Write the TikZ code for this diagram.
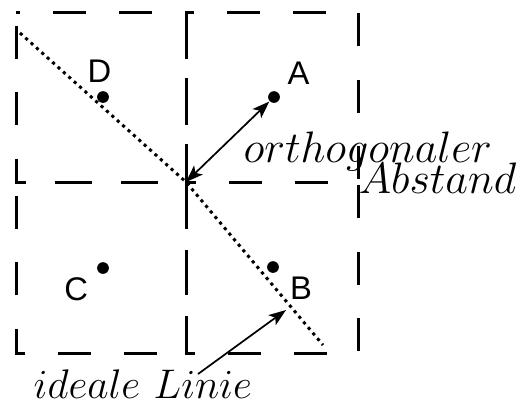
\documentclass[tikz,border=0pt]{standalone}
\usepackage{fontspec}
\newfontfamily\lblfont{Liberation Sans}
\usetikzlibrary{arrows.meta, positioning}
\tikzset{
  cell/.style={line width=0.87pt, dash pattern=on 9.6pt off 9.6pt, dash phase=15.1pt},
  pt/.style={circle, fill=black, inner sep=0pt, minimum size=3.4pt},
  ptlabel/.style={font=\lblfont\fontsize{9.5}{11}\selectfont, inner sep=0pt},
  idealline/.style={line width=0.87pt, dash pattern=on 0.9pt off 1.2pt},
  pointer/.style={-{Stealth[length=5pt, width=3.6pt, inset=1.2pt]}, line width=0.5pt},
  note/.style={font=\large, inner sep=0pt},
}

\begin{document}
\begin{tikzpicture}[x=0.29pt, y=-0.29pt]
    \useasboundingbox (0,0) rectangle (521,407);

    % the four cells
    \foreach \xa/\ya/\xb/\yb in {16/12/186/182, 186/12/358/182, 16/182/186/353, 186/182/358/353}
        \draw[cell] (\xa,\ya) rectangle (\xb,\yb);

    % points
    \node[pt] (d) at (103,97) {};
    \node[pt] (a) at (274,97) {};
    \node[pt] (c) at (103,268) {};
    \node[pt] (b) at (273,267) {};

    \node[ptlabel, above=2.1pt of d, xshift=-1pt] {D};
    \node[ptlabel, above right=2.1pt and 2.4pt of a] {A};
    \node[ptlabel, below left=1.2pt and 2.8pt of c] {C};
    \node[ptlabel, below right=1.2pt and 3.4pt of b] {B};

    % ideal line
    \coordinate (lstart) at (20,33);
    \coordinate (mid) at (186,182);
    \coordinate (lend) at (323,345);
    \draw[idealline] (lstart) -- (mid) -- (lend);

    % orthogonal distance
    \draw[pointer, {Stealth[length=5pt, width=3.6pt, inset=1.2pt]}-{Stealth[length=5pt, width=3.6pt, inset=1.2pt]}] (mid) -- (a);
    \node[note, scale=1.065, anchor=base west] (orth) at (243,162) {$orthogonaler$};
    \node[note, scale=1.065, anchor=base east] (abst) at (517,193) {$Abstand$};

    % label of the ideal line
    \node[note, anchor=base west] (ideal) at (33,398) {$ideale\ Linie$};
    \coordinate (lfoot) at (198,374);
    \coordinate (lhit) at (286,310);
    \draw[pointer] (lfoot) -- (lhit);
\end{tikzpicture}
\end{document}
